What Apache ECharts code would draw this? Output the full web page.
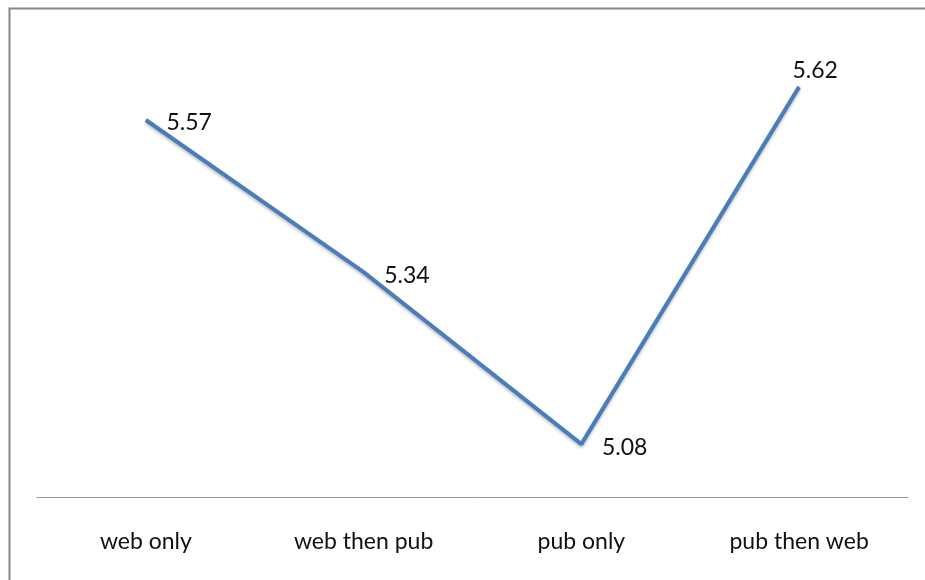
<!DOCTYPE html>
<html><head><meta charset="utf-8">
<script src="https://cdn.jsdelivr.net/npm/echarts@6/dist/echarts.min.js"></script>
<style>html,body{margin:0;padding:0;background:#fff}#c{width:925px;height:580px}</style>
</head><body><div id="c"></div>
<script>
const categories = ['web only', 'web then pub', 'pub only', 'pub then web'];
const values = [5.57, 5.34, 5.08, 5.62];

const labelRight = { position: 'right', distance: 0, offset: [20, 3] };
const labelTop = { position: 'top', distance: 4, offset: [16, 0] };
const labelCfg = [labelRight, labelRight, labelRight, labelTop];

const chart = echarts.init(document.getElementById('c'), null, { renderer: 'canvas' });
chart.setOption({
  animation: false,
  backgroundColor: '#fff',
  graphic: [{
    type: 'rect', left: 7, top: 6, z: 10,
    shape: { width: 940, height: 600 },
    style: { fill: 'none', stroke: '#888', lineWidth: 2 }
  }],
  grid: { left: 37, right: 17, top: 34, bottom: 83 },
  xAxis: {
    type: 'category', data: categories, boundaryGap: true,
    axisLine: { lineStyle: { color: '#999', width: 1 } },
    axisTick: { show: false },
    axisLabel: { color: '#111', fontFamily: 'Lato', fontSize: 23, margin: 33 }
  },
  yAxis: { type: 'value', min: 5, max: 5.7, show: false, splitLine: { show: false } },
  series: [{
    type: 'line',
    data: values.map((v, i) => ({ value: v, label: labelCfg[i] })),
    showSymbol: true, symbol: 'circle', symbolSize: 1,
    itemStyle: { color: 'rgba(0,0,0,0)' },
    lineStyle: { color: '#4a7ebb', width: 4, shadowColor: 'rgba(0,0,0,0.25)', shadowBlur: 3, shadowOffsetY: 2 },
    label: { show: true, color: '#111', fontFamily: 'Lato', fontSize: 23 }
  }]
});
</script></body></html>
